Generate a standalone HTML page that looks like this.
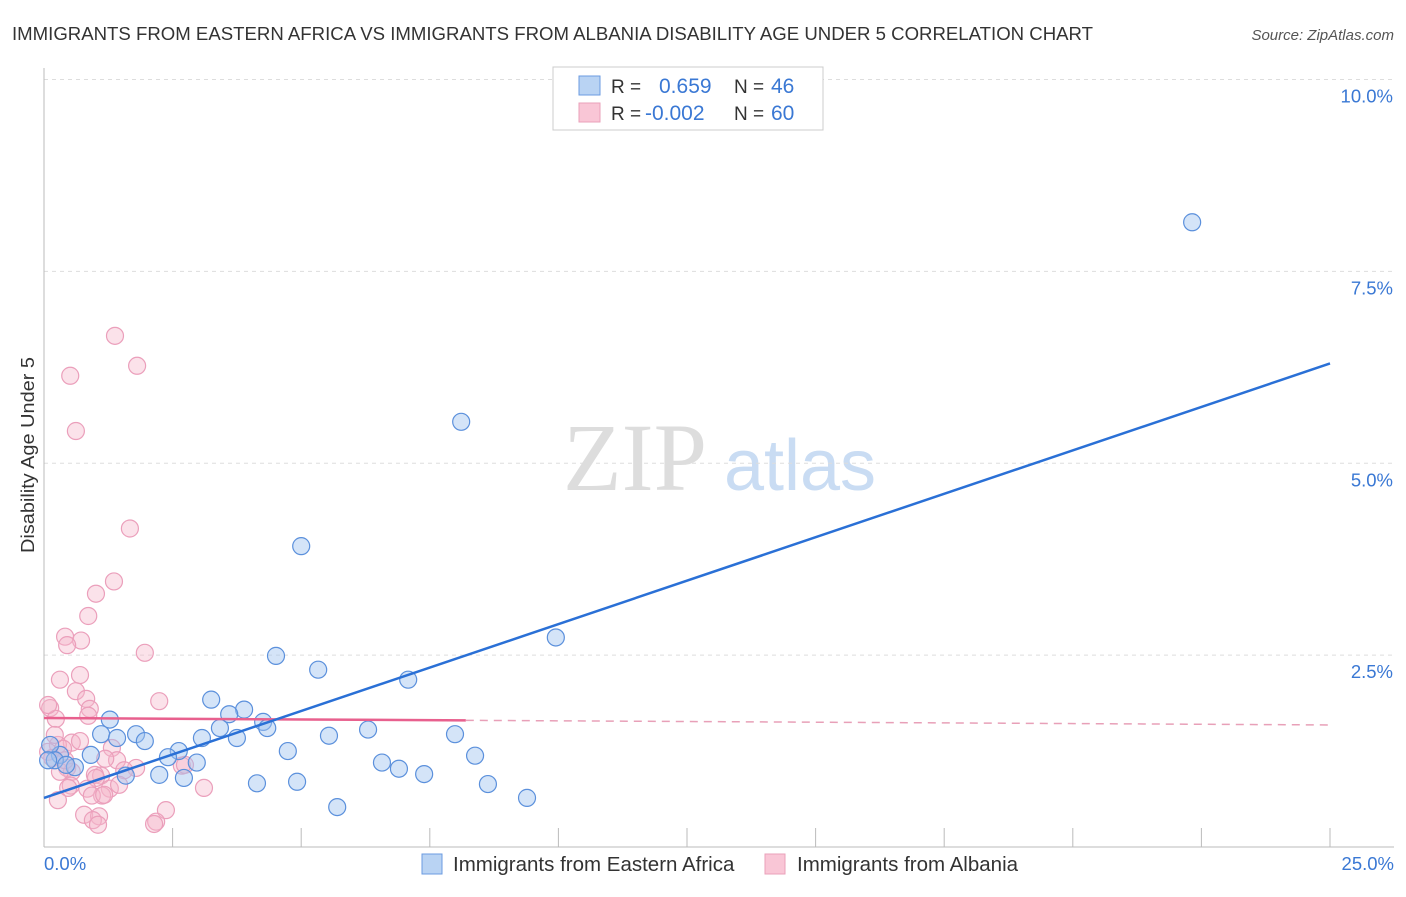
<!DOCTYPE html>
<html><head><meta charset="utf-8"><style>
body{margin:0;background:#fff;font-family:"Liberation Sans",sans-serif}
#wrap{position:relative;width:1406px;height:892px}
</style></head><body><div id="wrap">
<svg id="svg" width="1406" height="892" xmlns="http://www.w3.org/2000/svg">
<text x="12" y="40" font-size="18.5" fill="#333" textLength="1081" lengthAdjust="spacingAndGlyphs">IMMIGRANTS FROM EASTERN AFRICA VS IMMIGRANTS FROM ALBANIA DISABILITY AGE UNDER 5 CORRELATION CHART</text>
<text x="1394" y="40" font-size="15" fill="#555" font-style="italic" text-anchor="end">Source: ZipAtlas.com</text>
<text x="34" y="455" font-size="18" fill="#333" text-anchor="middle" textLength="196" lengthAdjust="spacingAndGlyphs" transform="rotate(-90 34 455)">Disability Age Under 5</text>
<g><text x="635" y="490" font-size="96" fill="#ddd" font-family="Liberation Serif,serif" text-anchor="middle">ZIP</text><text x="800" y="490" font-size="72" fill="#c9dcf3" text-anchor="middle">atlas</text></g>
<g id="grid"></g><g id="marks"></g>
<g>
<rect x="553" y="67" width="270" height="63" fill="#fff" stroke="#ccc"/>
<rect x="579" y="76" width="21" height="19" fill="#b9d3f3" stroke="#6b9be0"/>
<rect x="579" y="103" width="21" height="19" fill="#f9c6d6" stroke="#eaa0ba"/>
<text x="611" y="93" font-size="19" fill="#333">R = </text><text x="659" y="93" font-size="21" fill="#3a78d4">0.659</text>
<text x="734" y="93" font-size="19" fill="#333">N = </text><text x="771" y="93" font-size="21" fill="#3a78d4">46</text>
<text x="611" y="120" font-size="19" fill="#333">R = </text><text x="645" y="120" font-size="21" fill="#3a78d4">-0.002</text>
<text x="734" y="120" font-size="19" fill="#333">N = </text><text x="771" y="120" font-size="21" fill="#3a78d4">60</text>
</g>
<g>
<rect x="422" y="854" width="20" height="20" fill="#b9d3f3" stroke="#6b9be0"/>
<text x="453" y="871" font-size="20.5" fill="#333">Immigrants from Eastern Africa</text>
<rect x="765" y="854" width="20" height="20" fill="#f9c6d6" stroke="#eaa0ba"/>
<text x="797" y="871" font-size="20.5" fill="#333">Immigrants from Albania</text>
</g>
</svg></div>
<script>
const yTicks=[2.5,5.0,7.5,10.0];
const yTickLabels=["2.5%","5.0%","7.5%","10.0%"];
const xTicks=[0,2.5,5,7.5,10,12.5,15,17.5,20,22.5,25];
const blueX=[22.32,8.11,5.00,9.95,4.51,5.33,7.08,3.25,3.89,3.60,4.26,4.34,1.28,3.42,1.11,1.79,6.30,7.99,5.54,3.75,3.07,1.96,2.62,4.74,1.42,0.91,8.38,2.41,2.97,6.57,6.90,7.39,1.59,2.24,2.72,4.14,4.92,8.63,9.39,5.70,0.31,0.12,0.21,0.60,0.43,0.08];
const blueY=[8.14,5.54,3.92,2.73,2.49,2.31,2.18,1.92,1.79,1.73,1.63,1.55,1.66,1.55,1.47,1.47,1.53,1.47,1.45,1.42,1.42,1.38,1.25,1.25,1.42,1.20,1.19,1.17,1.10,1.10,1.02,0.95,0.93,0.94,0.90,0.83,0.85,0.82,0.64,0.52,1.20,1.33,1.13,1.04,1.07,1.13];
const pinkX=[1.38,1.81,0.51,0.62,1.67,1.36,1.01,0.86,0.41,0.72,0.45,1.96,0.70,0.31,0.62,2.24,0.82,0.12,0.89,0.86,0.23,0.54,0.70,1.32,0.27,0.37,0.08,0.16,1.42,1.79,1.19,2.68,0.45,0.54,1.11,0.99,1.56,2.74,0.31,1.01,3.11,0.52,0.84,1.28,1.46,0.47,1.13,0.93,0.27,2.37,0.78,1.07,0.95,1.05,2.18,2.14,0.08,0.21,0.41,1.17];
const pinkY=[6.66,6.27,6.14,5.42,4.15,3.46,3.30,3.01,2.74,2.69,2.63,2.53,2.24,2.18,2.03,1.90,1.93,1.81,1.80,1.71,1.67,1.36,1.38,1.29,1.33,1.28,1.24,1.16,1.13,1.03,1.15,1.06,1.03,0.98,0.93,0.94,1.00,1.07,0.98,0.90,0.77,0.80,0.76,0.76,0.81,0.77,0.67,0.67,0.61,0.48,0.42,0.40,0.35,0.29,0.33,0.30,1.85,1.46,1.13,0.68];
const blueTrend=[0.64,6.30];
const pinkTrend=[1.68,1.59];
const X=v=>44+v/25*1286, Y=v=>847-v/10*767.5;
const NS="http://www.w3.org/2000/svg";
function mk(t,a,p){const e=document.createElementNS(NS,t);for(const k in a)e.setAttribute(k,a[k]);p.appendChild(e);return e;}
const g=document.getElementById('grid'),m=document.getElementById('marks');
yTicks.forEach((v,i)=>{
 const l=mk('line',{x1:44,x2:1394,y1:Y(v),y2:Y(v),stroke:'#ddd','stroke-dasharray':'4,4'},g);
 
 
 const t=mk('text',{x:1393,y:Y(v)+23,'font-size':18.5,fill:'#3a78d4','text-anchor':'end'},g);t.textContent=yTickLabels[i];
 
 
});
mk('line',{x1:44,x2:44,y1:68,y2:847,stroke:'#bbb'},g);
mk('line',{x1:44,x2:1394,y1:847,y2:847,stroke:'#bbb'},g);
xTicks.forEach(v=>{if(v>0){const l=mk('line',{x1:X(v),x2:X(v),y1:828,y2:847,stroke:'#bbb'},g);
 
 }});
const x0=mk('text',{x:44,y:870,'font-size':18.5,fill:'#3a78d4'},g);x0.textContent='0.0%';


const x1=mk('text',{x:1394,y:870,'font-size':18.5,fill:'#3a78d4','text-anchor':'end'},g);x1.textContent='25.0%';


pinkX.forEach((v,i)=>{const c=mk('circle',{cx:X(v),cy:Y(pinkY[i]),r:8.5,fill:'rgba(246,182,202,0.4)',stroke:'#eb9fbb','stroke-width':1.2},m);
 
 });
blueX.forEach((v,i)=>{const c=mk('circle',{cx:X(v),cy:Y(blueY[i]),r:8.5,fill:'rgba(160,196,240,0.45)',stroke:'#5b90dc','stroke-width':1.2},m);
 
 });
const pt=v=>pinkTrend[0]+(pinkTrend[1]-pinkTrend[0])*v/25;
const pl=mk('line',{x1:X(0),y1:Y(pt(0)),x2:X(8.2),y2:Y(pt(8.2)),stroke:'#e8608e','stroke-width':2.5},m);


const pd=mk('line',{x1:X(8.2),y1:Y(pt(8.2)),x2:X(25),y2:Y(pt(25)),stroke:'#e8a0b8','stroke-width':1.5,'stroke-dasharray':'8,6'},m);


const bl=mk('line',{x1:X(0),y1:Y(blueTrend[0]),x2:X(25),y2:Y(blueTrend[1]),stroke:'#2a70d6','stroke-width':2.5},m);


</script></body></html>
